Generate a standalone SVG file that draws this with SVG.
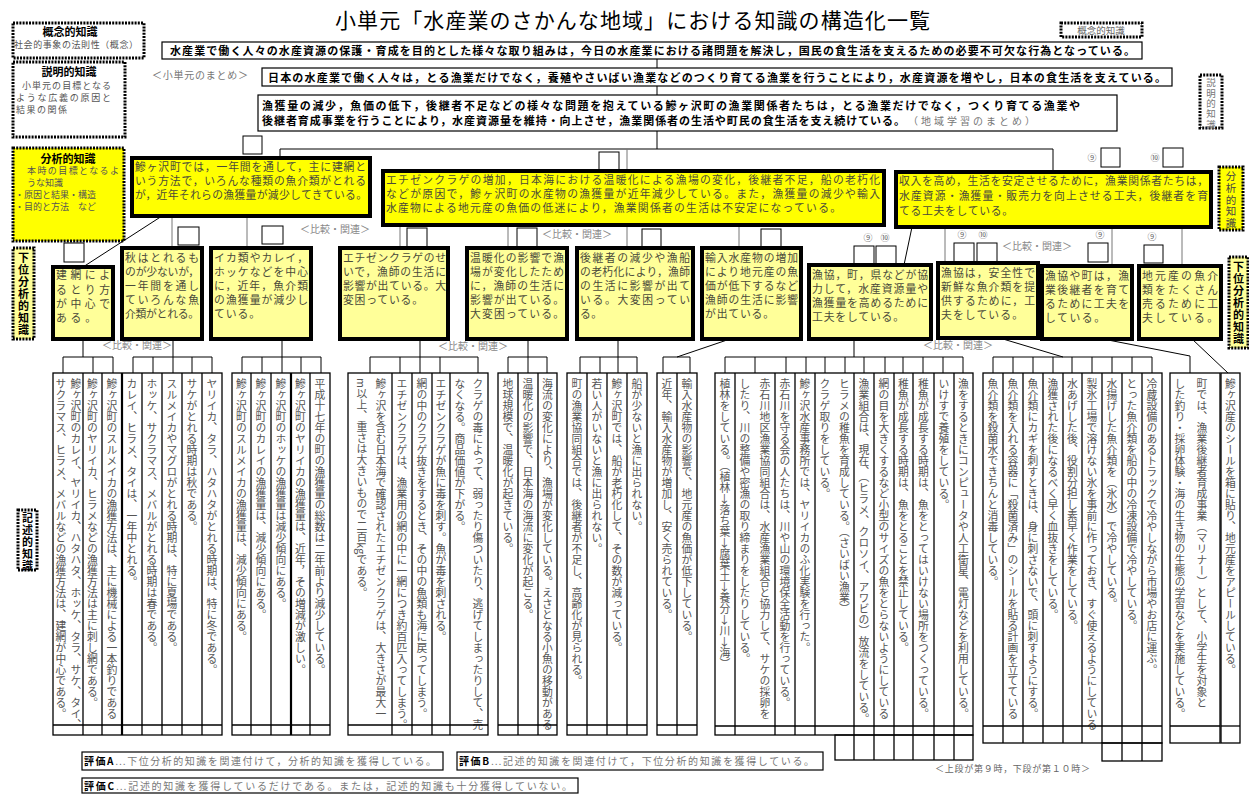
<svg xmlns="http://www.w3.org/2000/svg" width="1249" height="794" viewBox="0 0 1249 794">
<style>
text{font-family:'Noto Sans CJK JP','Noto Sans',sans-serif}
.ttl{font-size:21px;fill:#000}
.tb{font-size:11px;font-weight:bold;fill:#000}
.tg{font-size:10px;fill:#777}
.ta{font-size:10.8px;fill:#4a4a3a}
.lt{font-size:9px;fill:#555}
.v{writing-mode:vertical-rl;font-size:10.8px;fill:#555;letter-spacing:0.2px}
.vb{writing-mode:vertical-rl;font-size:11px;font-weight:bold;fill:#000;letter-spacing:1px}
.box{fill:#fff;stroke:#000;stroke-width:1.2}
.ana{fill:#ffff00;stroke:#000;stroke-width:4}
.sub{fill:#ffff99;stroke:#000;stroke-width:4}
.sq{fill:#fff;stroke:#000;stroke-width:1}
.legw{fill:#fff;stroke:#000;stroke-width:3;stroke-dasharray:2 1.2}
.legy{fill:#ffff00;stroke:#000;stroke-width:3;stroke-dasharray:2 1.2}
.legy2{fill:#ffff99;stroke:#000;stroke-width:3;stroke-dasharray:2 1.2}
.c{stroke:#000;stroke-width:1;fill:none}
.cg{stroke:#777;stroke-width:1;fill:none}
.col{fill:none;stroke:#000;stroke-width:1.3}
.dv{stroke:#000;stroke-width:1.3}
.dk{stroke:#000;stroke-width:2.2}
.num{font-size:9px;fill:#666;text-anchor:middle}
.cmp{font-size:10px;fill:#888;text-anchor:middle}
</style>
<defs>
<clipPath id="clipA" clipPathUnits="userSpaceOnUse"><rect x="40" y="373" width="940" height="362"/></clipPath>
<clipPath id="clipB" clipPathUnits="userSpaceOnUse"><rect x="980" y="373" width="265" height="370"/></clipPath>
</defs>
<rect width="1249" height="794" fill="#fff"/>

<text class="ttl" x="335" y="28" textLength="595" lengthAdjust="spacing">小単元「水産業のさかんな地域」における知識の構造化一覧</text>

<!-- legends -->
<g id="legend-gainen">
<rect class="legw" x="13" y="23" width="131" height="35"/>
<text class="tb" x="70" y="36" text-anchor="middle" font-size="10">概念的知識</text>
<text class="lt" x="14" y="48" textLength="124" lengthAdjust="spacing">社会的事象の法則性（概念）</text>
</g>
<g id="legend-setsumei">
<rect class="legw" x="13" y="62" width="112" height="75"/>
<text class="tb" x="69" y="76" text-anchor="middle" font-size="10">説明的知識</text>
<text class="lt" x="22" y="89" textLength="89" lengthAdjust="spacing">小単元の目標となる</text>
<text class="lt" x="16" y="101" textLength="95" lengthAdjust="spacing">ような広義の原因と</text>
<text class="lt" x="16" y="113" letter-spacing="1.5">結果の関係</text>
</g>
<g id="legend-bunseki">
<rect class="legy" x="13" y="148" width="111" height="93"/>
<text class="tb" x="68" y="163" text-anchor="middle" font-size="10">分析的知識</text>
<text class="lt" x="27" y="174" textLength="92" lengthAdjust="spacing">本時の目標となるよ</text>
<text class="lt" x="27" y="186">うな知識</text>
<text class="lt" x="15" y="198">・原因と結果・構造</text>
<text class="lt" x="15" y="210">・目的と方法　など</text>
</g>
<g id="legend-kai-left">
<rect class="legy2" x="13" y="248" width="21" height="91"/>
<text class="vb" x="23.5" y="252">下位分析的知識</text>
</g>
<g id="legend-kijutsu">
<rect class="legw" x="18" y="510" width="19" height="60"/>
<text class="vb" x="27.5" y="512">記述的知識</text>
</g>
<g id="legend-gainen-r">
<rect class="legw" x="1061" y="23" width="81" height="14"/>
<text x="1101" y="34" text-anchor="middle" font-size="9.5" fill="#666">概念的知識</text>
</g>
<g id="legend-setsumei-r">
<rect class="legw" x="1200" y="75" width="22" height="53"/>
<text class="v" x="1211" y="78" style="font-size:9.5px;fill:#777;letter-spacing:0.8px">説明的知識</text>
</g>
<g id="legend-bunseki-r">
<rect class="legy" x="1219" y="167" width="24" height="63"/>
<text class="v" x="1231" y="171" style="font-size:10.5px;fill:#444;letter-spacing:1.2px">分析的知識</text>
</g>
<g id="legend-kai-right">
<rect class="legy2" x="1229" y="257" width="19" height="91"/>
<text class="vb" x="1238.5" y="261">下位分析的知識</text>
</g>

<!-- connectors -->
<g id="connectors">
<line class="c" x1="657" y1="59" x2="657" y2="68"/>
<line class="c" x1="657" y1="86" x2="657" y2="95"/>
<line class="c" x1="657" y1="131" x2="657" y2="149"/>
<polyline class="c" points="280,158 280,149 1053,149 1053,172"/>
<line class="cg" x1="627" y1="149" x2="627" y2="171"/>
<line class="c" x1="162" y1="216" x2="83" y2="267"/>
<line class="cg" x1="172" y1="216" x2="172" y2="248"/>
<line class="cg" x1="247" y1="216" x2="247" y2="248"/>
<line class="cg" x1="400" y1="225" x2="400" y2="248"/>
<line class="cg" x1="508" y1="225" x2="508" y2="248"/>
<line class="cg" x1="627" y1="225" x2="627" y2="248"/>
<line class="cg" x1="739" y1="225" x2="739" y2="248"/>
<line class="c" x1="912" y1="227" x2="904" y2="265"/>
<line class="cg" x1="945" y1="227" x2="945" y2="263"/>
<line class="cg" x1="1112" y1="227" x2="1112" y2="266"/>
<line class="cg" x1="1182" y1="227" x2="1182" y2="266"/>
<path class="c" d="M83,339V357M63,373V357H113V373M93,357V373"/>
<path class="c" d="M173,339V357M133,373V357H212V373M153,357V373M173,357V373M192,357V373"/>
<path class="c" d="M282,339V357M242,373V357H321V373M262,357V373M282,357V373M301,357V373"/>
<path class="c" d="M420,339V357M370,373V357H478V373M400,357V373M420,357V373M440,357V373"/>
<path class="c" d="M528,339V357M508,373V357H547V373M528,357V373"/>
<path class="c" d="M618,339V357M580,373V357H637V373M600,357V373M618,357V373"/>
<path class="c" d="M730,339L677,357M663,373V357H690V373"/>
<path class="c" d="M854,339V357M725,373V357H963V373M755,357V373M786,357V373M806,357V373M825,357V373M845,357V373M864,357V373M885,357V373M903,357V373M923,357V373M943,357V373"/>
<path class="c" d="M1003,339L1063,357M993,373V357H1152V373M1013,357V373M1033,357V373M1053,357V373M1072,357V373M1092,357V373M1112,357V373M1132,357V373"/>
<path class="c" d="M1103,339L1190,356V373"/>
<path class="c" d="M1192,339L1228,373"/>
</g>

<!-- top level boxes -->
<g id="node-top1">
<rect class="box" x="162" y="42" width="980" height="17"/>
<text class="tb" x="170" y="55" textLength="965" lengthAdjust="spacing">水産業で働く人々の水産資源の保護・育成を目的とした様々な取り組みは，今日の水産業における諸問題を解決し，国民の食生活を支えるための必要不可欠な行為となっている。</text>
</g>
<text class="tg" x="152" y="79" textLength="96" lengthAdjust="spacing">＜小単元のまとめ＞</text>
<g id="node-top2">
<rect class="box" x="262" y="68" width="910" height="18"/>
<text class="tb" x="268" y="81.5" textLength="898" lengthAdjust="spacing">日本の水産業で働く人々は，とる漁業だけでなく，養殖やさいばい漁業などのつくり育てる漁業を行うことにより，水産資源を増やし，日本の食生活を支えている。</text>
</g>
<g id="node-top3">
<rect class="box" x="258" y="95" width="859" height="36"/>
<text class="tb" x="262" y="110" textLength="818" lengthAdjust="spacing" font-size="10.8">漁獲量の減少，魚価の低下，後継者不足などの様々な問題を抱えている鰺ヶ沢町の漁業関係者たちは，とる漁業だけでなく，つくり育てる漁業や</text>
<text class="tb" x="262" y="124.5" textLength="643" lengthAdjust="spacing" font-size="10.8">後継者育成事業を行うことにより，水産資源量を維持・向上させ，漁業関係者の生活や町民の食生活を支え続けている。</text>
<text class="tg" x="908" y="124.5" textLength="127" lengthAdjust="spacing" font-size="11">（地域学習のまとめ）</text>
</g>

<!-- analytical -->
<g id="node-A1">
<rect class="sq" x="243" y="136" width="19" height="18"/>
<rect class="ana" x="132" y="158" width="238" height="58"/>
<text class="ta" x="135" y="171" textLength="231" lengthAdjust="spacing">鰺ヶ沢町では，一年間を通して，主に建網と</text>
<text class="ta" x="135" y="185" textLength="231" lengthAdjust="spacing">いう方法で，いろんな種類の魚介類がとれる</text>
<text class="ta" x="135" y="199" textLength="232" lengthAdjust="spacing">が，近年それらの漁獲量が減少してきている。</text>
</g>
<g id="node-A2">
<rect class="sq" x="599" y="152" width="20" height="18"/>
<rect class="ana" x="383" y="171" width="501" height="54"/>
<text class="ta" x="386" y="184" textLength="494" lengthAdjust="spacing">エチゼンクラゲの増加，日本海における温暖化による漁場の変化，後継者不足，船の老朽化</text>
<text class="ta" x="386" y="198" textLength="494" lengthAdjust="spacing">などが原因で，鰺ヶ沢町の水産物の漁獲量が近年減少している。また，漁獲量の減少や輸入</text>
<text class="ta" x="386" y="212" textLength="455" lengthAdjust="spacing">水産物による地元産の魚価の低迷により，漁業関係者の生活は不安定になっている。</text>
</g>
<g id="node-A3">
<text class="num" x="1092" y="161">⑨</text>
<rect class="sq" x="1101" y="148" width="19" height="19"/>
<text class="num" x="1155" y="161">⑩</text>
<rect class="sq" x="1163" y="148" width="20" height="19"/>
<rect class="ana" x="896" y="172" width="315" height="55"/>
<text class="ta" x="899" y="185" textLength="309" lengthAdjust="spacing">収入を高め，生活を安定させるために，漁業関係者たちは，</text>
<text class="ta" x="899" y="200" textLength="309" lengthAdjust="spacing">水産資源・漁獲量・販売力を向上させる工夫，後継者を育</text>
<text class="ta" x="899" y="215" textLength="114" lengthAdjust="spacing">てる工夫をしている。</text>
</g>

<text class="cmp" x="335" y="233">＜比較・関連＞</text>
<text class="cmp" x="577" y="238">＜比較・関連＞</text>
<text class="cmp" x="1037" y="250">＜比較・関連＞</text>
<text class="cmp" x="137" y="349">＜比較・関連＞</text>
<text class="cmp" x="473" y="350">＜比較・関連＞</text>
<text class="cmp" x="958" y="349">＜比較・関連＞</text>

<!-- sub analytical -->
<g id="node-B1">
<rect class="sq" x="64" y="243" width="20" height="19"/>
<rect class="sub" x="53" y="267" width="60" height="72"/>
<text class="ta" x="56" y="279" textLength="54" lengthAdjust="spacing">建網によ</text>
<text class="ta" x="56" y="294" textLength="54" lengthAdjust="spacing">るとり方</text>
<text class="ta" x="56" y="308" textLength="54" lengthAdjust="spacing">が中心で</text>
<text class="ta" x="56" y="322" textLength="40" lengthAdjust="spacing">ある。</text>
</g>
<g id="node-B2">
<rect class="sq" x="178" y="227" width="21" height="18"/>
<rect class="sub" x="122" y="248" width="80" height="91"/>
<text class="ta" x="125" y="262" textLength="74" lengthAdjust="spacing">秋はとれるも</text>
<text class="ta" x="125" y="276" textLength="74" lengthAdjust="spacing">のが少ないが，</text>
<text class="ta" x="125" y="290" textLength="74" lengthAdjust="spacing">一年間を通し</text>
<text class="ta" x="125" y="304" textLength="74" lengthAdjust="spacing">ていろんな魚</text>
<text class="ta" x="125" y="318" textLength="74" lengthAdjust="spacing">介類がとれる。</text>
</g>
<g id="node-B3">
<rect class="sq" x="262" y="226" width="21" height="18"/>
<rect class="sub" x="211" y="248" width="100" height="91"/>
<text class="ta" x="214" y="262" textLength="94" lengthAdjust="spacing">イカ類やカレイ，</text>
<text class="ta" x="214" y="276" textLength="94" lengthAdjust="spacing">ホッケなどを中心</text>
<text class="ta" x="214" y="290" textLength="94" lengthAdjust="spacing">に，近年，魚介類</text>
<text class="ta" x="214" y="304" textLength="94" lengthAdjust="spacing">の漁獲量が減少し</text>
<text class="ta" x="214" y="318" textLength="46" lengthAdjust="spacing">ている。</text>
</g>
<g id="node-B4">
<rect class="sq" x="407" y="228" width="20" height="19"/>
<rect class="sub" x="340" y="248" width="108" height="91"/>
<text class="ta" x="343" y="262" textLength="103" lengthAdjust="spacing">エチゼンクラゲのせ</text>
<text class="ta" x="343" y="276" textLength="103" lengthAdjust="spacing">いで，漁師の生活に</text>
<text class="ta" x="343" y="290" textLength="103" lengthAdjust="spacing">影響が出ている。大</text>
<text class="ta" x="343" y="304" textLength="80" lengthAdjust="spacing">変困っている。</text>
</g>
<g id="node-B5">
<rect class="sq" x="517" y="228" width="20" height="19"/>
<rect class="sub" x="467" y="248" width="100" height="91"/>
<text class="ta" x="470" y="262" textLength="94" lengthAdjust="spacing">温暖化の影響で漁</text>
<text class="ta" x="470" y="276" textLength="94" lengthAdjust="spacing">場が変化したため</text>
<text class="ta" x="470" y="290" textLength="94" lengthAdjust="spacing">に，漁師の生活に</text>
<text class="ta" x="470" y="304" textLength="94" lengthAdjust="spacing">影響が出ている。</text>
<text class="ta" x="470" y="318" textLength="94" lengthAdjust="spacing">大変困っている。</text>
</g>
<g id="node-B6">
<rect class="sq" x="642" y="229" width="19" height="19"/>
<rect class="sub" x="577" y="248" width="116" height="91"/>
<text class="ta" x="580" y="262" textLength="110" lengthAdjust="spacing">後継者の減少や漁船</text>
<text class="ta" x="580" y="276" textLength="110" lengthAdjust="spacing">の老朽化により，漁師</text>
<text class="ta" x="580" y="290" textLength="110" lengthAdjust="spacing">の生活に影響が出て</text>
<text class="ta" x="580" y="304" textLength="110" lengthAdjust="spacing">いる。大変困ってい</text>
<text class="ta" x="580" y="318" textLength="22" lengthAdjust="spacing">る。</text>
</g>
<g id="node-B7">
<rect class="sq" x="761" y="229" width="20" height="18"/>
<rect class="sub" x="702" y="248" width="99" height="91"/>
<text class="ta" x="705" y="262" textLength="93" lengthAdjust="spacing">輸入水産物の増加</text>
<text class="ta" x="705" y="276" textLength="93" lengthAdjust="spacing">により地元産の魚</text>
<text class="ta" x="705" y="290" textLength="93" lengthAdjust="spacing">価が低下するなど</text>
<text class="ta" x="705" y="304" textLength="93" lengthAdjust="spacing">漁師の生活に影響</text>
<text class="ta" x="705" y="318" textLength="69" lengthAdjust="spacing">が出ている。</text>
</g>
<g id="node-B8">
<text class="num" x="868" y="241">⑨</text>
<text class="num" x="885" y="241">⑩</text>
<rect class="sq" x="854" y="246" width="20" height="18"/>
<rect class="sq" x="876" y="246" width="20" height="18"/>
<rect class="sub" x="809" y="265" width="122" height="74"/>
<text class="ta" x="812" y="279" textLength="116" lengthAdjust="spacing">漁協，町，県などが協</text>
<text class="ta" x="812" y="293" textLength="116" lengthAdjust="spacing">力して，水産資源量や</text>
<text class="ta" x="812" y="307" textLength="116" lengthAdjust="spacing">漁獲量を高めるために</text>
<text class="ta" x="812" y="321" textLength="92" lengthAdjust="spacing">工夫をしている。</text>
</g>
<g id="node-B9">
<text class="num" x="962" y="238">⑨</text>
<text class="num" x="983" y="238">⑩</text>
<rect class="sq" x="954" y="243" width="20" height="19"/>
<rect class="sq" x="977" y="243" width="20" height="19"/>
<rect class="sub" x="938" y="263" width="100" height="75"/>
<text class="ta" x="941" y="277" textLength="94" lengthAdjust="spacing">漁協は，安全性で</text>
<text class="ta" x="941" y="291" textLength="94" lengthAdjust="spacing">新鮮な魚介類を提</text>
<text class="ta" x="941" y="305" textLength="94" lengthAdjust="spacing">供するために，工</text>
<text class="ta" x="941" y="319" textLength="82" lengthAdjust="spacing">夫をしている。</text>
</g>
<g id="node-B10">
<text class="num" x="1100" y="238">⑨</text>
<rect class="sq" x="1088" y="243" width="20" height="19"/>
<rect class="sub" x="1042" y="266" width="90" height="73"/>
<text class="ta" x="1045" y="280" textLength="84" lengthAdjust="spacing">漁協や町は，漁</text>
<text class="ta" x="1045" y="294" textLength="84" lengthAdjust="spacing">業後継者を育て</text>
<text class="ta" x="1045" y="308" textLength="84" lengthAdjust="spacing">るために工夫を</text>
<text class="ta" x="1045" y="322" textLength="60" lengthAdjust="spacing">している。</text>
</g>
<g id="node-B11">
<text class="num" x="1152" y="240">⑨</text>
<rect class="sq" x="1144" y="245" width="19" height="18"/>
<rect class="sub" x="1139" y="266" width="82" height="73"/>
<text class="ta" x="1142" y="280" textLength="76" lengthAdjust="spacing">地元産の魚介</text>
<text class="ta" x="1142" y="294" textLength="76" lengthAdjust="spacing">類をたくさん</text>
<text class="ta" x="1142" y="308" textLength="76" lengthAdjust="spacing">売るために工</text>
<text class="ta" x="1142" y="322" textLength="76" lengthAdjust="spacing">夫している。</text>
</g>

<!-- descriptive groups -->
<g id="desc-G1G2">
<g clip-path="url(#clipA)">
<text class="v" x="76" y="378">鰺ヶ沢町のカレイ、ヤリイカ、ハタハタ、ホッケ、タラ、サケ、タイ、</text>
<text class="v" x="61" y="378">サクラマス、ヒラメ、メバルなどの漁獲方法は、建網が中心である。</text>
<text class="v" x="92.5" y="378">鰺ヶ沢町のヤリイカ、ヒラメなどの漁獲方法は主に刺し網である。</text>
<text class="v" x="112" y="378">鰺ヶ沢町のスルメイカの漁獲方法は、主に機械による一本釣りである</text>
<text class="v" x="132" y="378">カレイ、ヒラメ、タイは、一年中とれる。</text>
<text class="v" x="152" y="378">ホッケ、サクラマス、メバルがとれる時期は春である。</text>
<text class="v" x="172" y="378">スルメイカやマグロがとれる時期は、特に夏場である。</text>
<text class="v" x="192" y="378">サケがとれる時期は秋である。</text>
<text class="v" x="212" y="378">ヤリイカ、タラ、ハタハタがとれる時期は、特に冬である。</text>
</g>
<rect class="col" x="53" y="373" width="169" height="362"/>
<path class="dv" d="M83,373V735M102,373V735M142,373V735M162,373V735M182,373V735M202,373V735M53,725H222"/>
<path class="dk" d="M122,373V735"/>
</g>
<g id="desc-G3">
<g clip-path="url(#clipA)">
<text class="v" x="241.5" y="378">鰺ヶ沢町のスルメイカの漁獲量は、減少傾向にある。</text>
<text class="v" x="261" y="378">鰺ヶ沢町のカレイの漁獲量は、減少傾向にある。</text>
<text class="v" x="281" y="378">鰺ヶ沢町のホッケの漁獲量は減少傾向にある。</text>
<text class="v" x="300.5" y="378">鰺ヶ沢町のヤリイカの漁獲量は、近年，その増減が激しい。</text>
<text class="v" x="320" y="378">平成十七年の町の漁獲量の総数は二年前より減少している。</text>
</g>
<rect class="col" x="232" y="373" width="98" height="362"/>
<path class="dv" d="M251,373V735M271,373V735M310,373V735M232,725H330"/>
<path class="dk" d="M291,373V735"/>
</g>
<g id="desc-G4">
<g clip-path="url(#clipA)">
<text class="v" x="381" y="378">鰺ヶ沢を含む日本海で確認されたエチゼンクラゲは、大きさが最大一</text>
<text class="v" x="362" y="378">m以上、重さは大きいもので二百kgである。</text>
<text class="v" x="402" y="378">エチゼンクラゲは、漁業用の網の中に一網につき約百匹入ってしまう。</text>
<text class="v" x="422" y="378">網の中のクラゲ抜きをするとき、その中の魚類も海に戻ってしまう。</text>
<text class="v" x="441" y="378">エチゼンクラゲが魚に毒を刺す。魚が毒を刺される。</text>
<text class="v" x="478" y="378">クラゲの毒によって、弱ったり傷ついたり、逃げてしまったりして、売</text>
<text class="v" x="460" y="378">なくなる。商品価値が下がる。</text>
</g>
<rect class="col" x="348" y="373" width="140" height="362"/>
<path class="dv" d="M392,373V735M412,373V735M432,373V735M450,373V735M348,725H488"/>
</g>
<g id="desc-G5">
<g clip-path="url(#clipA)">
<text class="v" x="508" y="378">地球規模で、温暖化が起きている。</text>
<text class="v" x="528" y="378">温暖化の影響で、日本海の海流に変化が起こる。</text>
<text class="v" x="547.5" y="378">海流の変化により、漁場が変化している。えさとなる小魚の移動がある</text>
</g>
<rect class="col" x="498" y="373" width="59" height="362"/>
<path class="dv" d="M518,373V735M538,373V735M498,725H557"/>
</g>
<g id="desc-G6">
<g clip-path="url(#clipA)">
<text class="v" x="577" y="378">町の漁業協同組合では、後継者が不足し、高齢化が見られる。</text>
<text class="v" x="597" y="378">若い人がいないと漁に出られない。</text>
<text class="v" x="617" y="378">鰺ヶ沢町では、船が老朽化して、その数が減っている。</text>
<text class="v" x="637" y="378">船が少ないと漁に出られない。</text>
</g>
<rect class="col" x="567" y="373" width="80" height="362"/>
<path class="dv" d="M587,373V735M607,373V735M627,373V735M567,725H647"/>
</g>
<g id="desc-G7">
<g clip-path="url(#clipA)">
<text class="v" x="667" y="378">近年、輸入水産物が増加し、安く売られている。</text>
<text class="v" x="687" y="378">輸入水産物の影響で、地元産の魚価が低下している。</text>
</g>
<rect class="col" x="657" y="373" width="40" height="362"/>
<path class="dv" d="M677,373V735M657,725H697"/>
</g>
<g id="desc-G8">
<g clip-path="url(#clipA)">
<text class="v" x="725" y="378">植林をしている。（植林→落ち葉→腐葉土→養分→川→海）</text>
<text class="v" x="765" y="378">赤石川地区漁業協同組合は、水産漁業組合と協力して、サケの採卵を</text>
<text class="v" x="745" y="378">したり、川の整備や密漁の取り締まりをしたりしている。</text>
<text class="v" x="785" y="378">赤石川を守る会の人たちは、川や山の環境保全活動を行っている。</text>
<text class="v" x="805" y="378">鰺ヶ沢水産事務所では、ヤリイカのふ化実験を行った。</text>
<text class="v" x="825" y="378">クラゲ取りをしている。</text>
<text class="v" x="844.5" y="378">ヒラメの稚魚を育成している。（さいばい漁業）</text>
<text class="v" x="864" y="378">漁業組合は、現在、（ヒラメ、クロソイ、アワビの）放流をしている。</text>
<text class="v" x="884" y="378">網の目を大きくするなど小型のサイズの魚をとらないようにしている</text>
<text class="v" x="903.5" y="378">稚魚が成長する時期は、魚をとることを禁止している。</text>
<text class="v" x="923.5" y="378">稚魚が成長する時期は、魚をとってはいけない場所をつくっている。</text>
<text class="v" x="944" y="378">いけすで養殖をしている。</text>
<text class="v" x="963.5" y="378">漁をするときにコンピュータや人工衛星、電灯などを利用している。</text>
</g>
<rect class="col" x="715" y="373" width="258" height="362"/>
<rect class="col" x="835" y="735" width="138" height="25"/>
<path class="dv" d="M735,373V735M775,373V735M795,373V735M815,373V735M854,373V760M874,373V760M894,373V760M913,373V760M934,373V760M954,373V760M715,726H973"/>
</g>
<g id="desc-G9">
<g clip-path="url(#clipB)">
<text class="v" x="993" y="378">魚介類を殺菌水できちんと消毒している。</text>
<text class="v" x="1013" y="378">魚介類を入れる容器に「殺菌済み」のシールを貼る計画を立てている</text>
<text class="v" x="1033" y="378">魚介類にカギを刺すときは、身に刺さないで、頭に刺すようにする。</text>
<text class="v" x="1053" y="378">漁獲された後になるべく早く血抜きをしている。</text>
<text class="v" x="1072.5" y="378">水あげした後、役割分担し素早く作業をしている。</text>
<text class="v" x="1092" y="378">製氷工場で溶けない氷を事前に作っておき、すぐ使えるようにしている</text>
<text class="v" x="1112" y="378">水揚げした魚介類を（氷水）で冷やしている。</text>
<text class="v" x="1132" y="378">とった魚介類を船の中の冷凍設備で冷やしている。</text>
<text class="v" x="1152" y="378">冷蔵設備のあるトラックで冷やしながら市場やお店に運ぶ。</text>
</g>
<rect class="col" x="983" y="373" width="179" height="370"/>
<rect class="col" x="1102" y="743" width="60" height="18"/>
<path class="dv" d="M1003,373V743M1023,373V743M1043,373V743M1063,373V743M1082,373V743M1102,373V743M1122,373V761M1142,373V761M983,726H1162"/>
</g>
<g id="desc-G10">
<g clip-path="url(#clipB)">
<text class="v" x="1202" y="378">町では、漁業後継者育成事業（マリナー）として、小学生を対象と</text>
<text class="v" x="1180" y="378">した釣り・採卵体験・海の生き物の生態の学習などを実施している。</text>
</g>
<rect class="col" x="1170" y="373" width="50" height="370"/>
<path class="dv" d="M1170,726H1220"/>
</g>
<g id="desc-G11">
<g clip-path="url(#clipB)">
<text class="v" x="1230.5" y="378">鰺ヶ沢産のシールを箱に貼り、地元産をアピールしている。</text>
</g>
<rect class="col" x="1221" y="373" width="19" height="370"/>
<path class="dv" d="M1221,726H1240"/>
</g>

<text x="935" y="772" font-size="9" fill="#666" textLength="155" lengthAdjust="spacing">＜上段が第９時，下段が第１０時＞</text>

<!-- evaluation -->
<g id="eval-A">
<rect class="box" x="82" y="752" width="361" height="18"/>
<text x="84" y="765" font-size="10" fill="#777" textLength="352" lengthAdjust="spacing"><tspan font-weight="bold" fill="#000">評価A</tspan>…下位分析的知識を関連付けて，分析的知識を獲得している。</text>
</g>
<g id="eval-B">
<rect class="box" x="457" y="752" width="366" height="18"/>
<text x="459" y="765" font-size="10" fill="#777" textLength="355" lengthAdjust="spacing"><tspan font-weight="bold" fill="#000">評価B</tspan>…記述的知識を関連付けて，下位分析的知識を獲得している。</text>
</g>
<g id="eval-C">
<rect class="box" x="82" y="778" width="496" height="15"/>
<text x="84" y="790" font-size="10" fill="#777" textLength="488" lengthAdjust="spacing"><tspan font-weight="bold" fill="#000">評価C</tspan>…記述的知識を獲得しているだけである。または，記述的知識も十分獲得していない。</text>
</g>
</svg>
